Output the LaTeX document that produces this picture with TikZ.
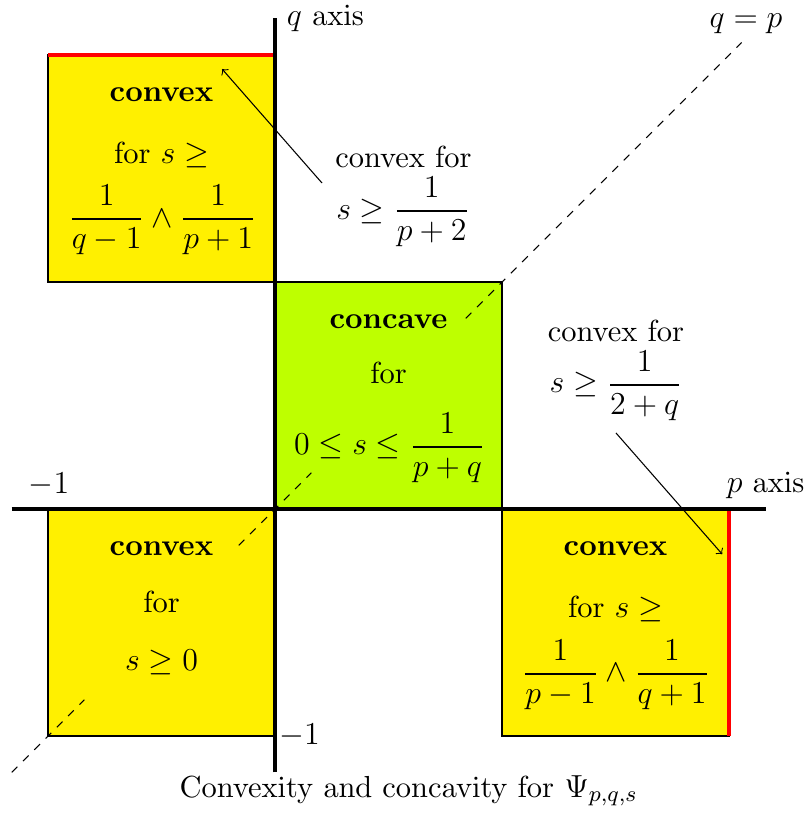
\documentclass[tikz,border=0pt]{standalone}
\usepackage[OT1]{fontenc}
\usepackage{fix-cm}
\usepackage{amsmath}
\renewcommand{\rmdefault}{cmr}
\DeclareMathSizes{11.45}{12}{8.4}{6}
\newcommand{\thfrac}[2]{\genfrac{}{}{0.8pt}{0}{#1}{#2}}
\definecolor{boxyellow}{RGB}{255,240,0}
\definecolor{boxgreen}{RGB}{190,255,0}
\tikzset{
  sq/.style={draw=black, line width=0.6pt},
  axisline/.style={line width=1.5pt},
  redline/.style={red, line width=1.3pt},
  diag/.style={dashed, line width=0.4pt},
  lbl/.style={inner sep=0pt, anchor=center},
  arr/.style={->, line width=0.4pt},
  capt/.style={inner sep=0pt, anchor=center},
}
\begin{document}
\begin{tikzpicture}[x=3cm,y=3cm, font=\fontsize{11.45}{13.7}\selectfont]
\useasboundingbox (-1.2115,-1.3568) rectangle (2.3348,2.2423);
% squares
\filldraw[fill=boxyellow, sq] (-1,1) rectangle (0,2);
\filldraw[fill=boxgreen, sq] (0,0) rectangle (1,1);
\filldraw[fill=boxyellow, sq] (-1,-1) rectangle (0,0);
\filldraw[fill=boxyellow, sq] (1,-1) rectangle (2,0);
% diagonal q = p
\draw[diag] (-1.16,-1.16) -- (-0.84,-0.84);
\draw[diag] (-0.16,-0.16) -- (0.16,0.16);
\draw[diag] (0.84,0.84) -- (2.055,2.055);
% red edges
\draw[redline] (-1,2) -- (0,2);
\draw[redline] (2,0) -- (2,-1);
% axes
\draw[axisline] (-1.16,0) -- (2.165,0);
\draw[axisline] (0,-1.16) -- (0,2.165);
% axis labels
\node[lbl] (qaxis) at (0.222,2.161) {$q$ axis};
\node[lbl] (qp) at (2.075,2.137) {$q=p$};
\node[lbl] (paxis) at (2.161,0.106) {$p$ axis};
\node[lbl] (mone) at (-0.996,0.108) {$-1$};
\node[lbl] (mtwo) at (0.108,-1.0) {$-1$};
% upper left
\node[lbl] (ulA) at (-0.5,1.824) {\textbf{convex}};
\node[lbl] (ulB) at (-0.5,1.557) {for $s\geq$};
\node[lbl] (ulC) at (-0.496,1.273) {$\thfrac{1}{q-1}\wedge\thfrac{1}{p+1}$};
% green
\node[lbl] (gA) at (0.5,0.826) {\textbf{concave}};
\node[lbl] (gB) at (0.5,0.601) {for};
\node[lbl] (gC) at (0.505,0.270) {$0\leq s\leq\thfrac{1}{p+q}$};
% bottom left
\node[lbl] (blA) at (-0.5,-0.176) {\textbf{convex}};
\node[lbl] (blB) at (-0.5,-0.41) {for};
\node[lbl] (blC) at (-0.5,-0.676) {$s\geq 0$};
% bottom right
\node[lbl] (brA) at (1.5,-0.174) {\textbf{convex}};
\node[lbl] (brB) at (1.5,-0.443) {for $s\geq$};
\node[lbl] (brC) at (1.502,-0.731) {$\thfrac{1}{p-1}\wedge\thfrac{1}{q+1}$};
% side labels
\node[lbl] (t1a) at (0.566,1.551) {convex for};
\node[lbl] (t1b) at (0.564,1.308) {$s\geq\thfrac{1}{p+2}$};
\node[lbl] (t2a) at (1.502,0.784) {convex for};
\node[lbl] (t2b) at (1.502,0.542) {$s\geq\thfrac{1}{2+q}$};
% arrows
\coordinate (a1s) at (0.207,1.436);
\coordinate (a1e) at (-0.233,1.938);
\draw[arr] (a1s) -- (a1e);
\coordinate (a2s) at (1.502,0.335);
\coordinate (a2e) at (1.970,-0.199);
\draw[arr] (a2s) -- (a2e);
% caption
\node[capt] (cap) at (0.589,-1.241) {Convexity and concavity for $\Psi_{p,q,s}$};
\end{tikzpicture}
\end{document}
